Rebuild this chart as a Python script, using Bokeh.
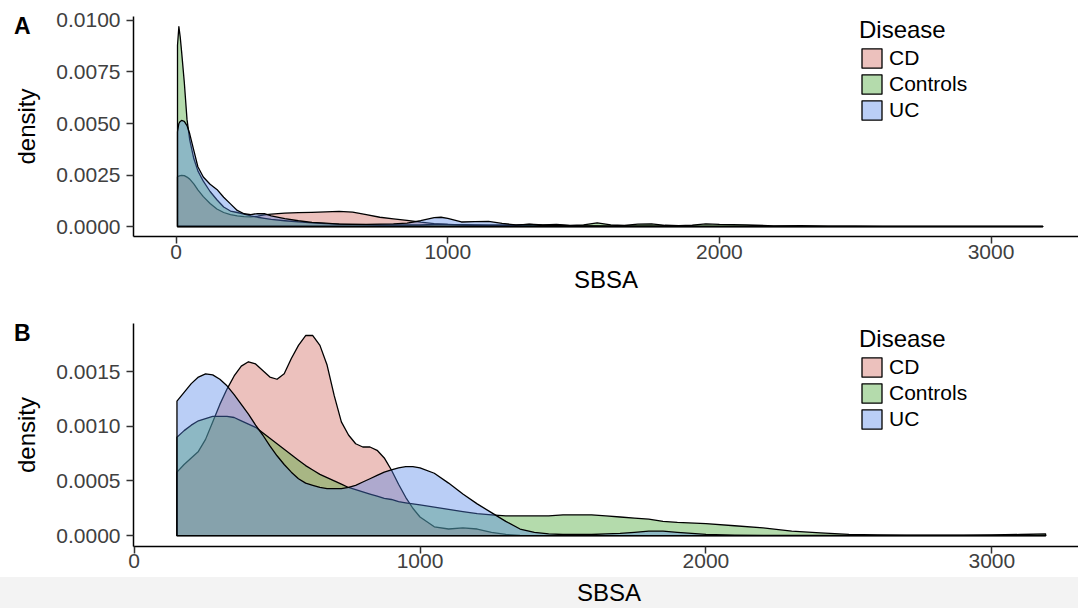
from bokeh.plotting import figure
from bokeh.models import (Range1d, FixedTicker, PrintfTickFormatter, Legend,
                          LegendItem, LinearAxis, Div)
from bokeh.layouts import column
from bokeh.embed import file_html
from bokeh.resources import INLINE

FONT = "Liberation Sans"
GROUPS = ["CD", "Controls", "UC"]
COLORS = ["#CF645A", "#44A530", "#5284E8"]
FILL_ALPHA = 0.4

# ---- Panel A: density of SBSA, all samples ----
a_sbsa = [5, 10, 15, 20, 30, 40, 50, 65, 80, 100, 125, 150, 175, 200, 225, 250,
          275, 300, 325, 350, 400, 450, 500, 550, 600, 650, 700, 750, 800, 850,
          900, 950, 975, 1000, 1050, 1100, 1150, 1200, 1250, 1300, 1350, 1400,
          1450, 1500, 1550, 1600, 1650, 1700, 1750, 1800, 1850, 1900, 1950, 2000,
          2100, 2200, 2300, 2400, 2500, 2600, 2800, 3000, 3190]
a_cd = [0.00240, 0.00245, 0.00247, 0.00248, 0.00247, 0.00240, 0.00230, 0.00207,
        0.00178, 0.00145, 0.00112, 0.00085, 0.00068, 0.00058, 0.00052, 0.00048,
        0.00047, 0.00050, 0.00056, 0.00060, 0.00065, 0.00067, 0.00069, 0.00071,
        0.00073, 0.00070, 0.00058, 0.00045, 0.00037, 0.00030, 0.00021, 0.00014,
        0.00012, 0.00010, 0.00009, 0.00008, 0.00007, 0.00006, 0.00005, 0.00004,
        0.00003, 0.00003, 0.00003, 0.00002, 0.00002, 0.00002, 0.00002, 0.00002,
        0.00002, 0.00001, 0.00001, 0.00001, 0.00001, 0.00001, 0.00001, 0.00001,
        0.00001, 0.00001, 0.00001, 0.00001, 0.00001, 0.00001, 0.00001]
a_controls = [0.00880, 0.00970, 0.00920, 0.00850, 0.00700, 0.00520, 0.00420,
              0.00330, 0.00270, 0.00220, 0.00170, 0.00130, 0.00095, 0.00075,
              0.00068, 0.00060, 0.00052, 0.00045, 0.00040, 0.00035, 0.00028,
              0.00022, 0.00018, 0.00014, 0.00012, 0.00010, 0.00009, 0.00008,
              0.00008, 0.00008, 0.00008, 0.00010, 0.00011, 0.00010, 0.00008,
              0.00007, 0.00006, 0.00006, 0.00006, 0.00012, 0.00008, 0.00010,
              0.00005, 0.00008, 0.00018, 0.00008, 0.00005, 0.00012, 0.00013,
              0.00006, 0.00004, 0.00007, 0.00013, 0.00010, 0.00008, 0.00003,
              0.00004, 0.00002, 0.00002, 0.00001, 0.00001, 0.00001, 0.00001]
a_uc = [0.00460, 0.00500, 0.00510, 0.00515, 0.00510, 0.00490, 0.00450, 0.00370,
        0.00290, 0.00240, 0.00205, 0.00180, 0.00142, 0.00110, 0.00078, 0.00062,
        0.00058, 0.00063, 0.00062, 0.00052, 0.00038, 0.00028, 0.00020, 0.00016,
        0.00012, 0.00010, 0.00010, 0.00012, 0.00013, 0.00016, 0.00028, 0.00043,
        0.00045, 0.00040, 0.00022, 0.00024, 0.00025, 0.00015, 0.00008, 0.00010,
        0.00006, 0.00007, 0.00004, 0.00003, 0.00003, 0.00002, 0.00002, 0.00002,
        0.00002, 0.00002, 0.00001, 0.00001, 0.00001, 0.00001, 0.00001, 0.00001,
        0.00001, 0.00001, 0.00001, 0.00001, 0.00001, 0.00001, 0.00001]

# ---- Panel B: density of SBSA, restricted samples ----
b_sbsa = [150, 175, 200, 225, 250, 275, 300, 325, 350, 375, 400, 425, 450, 475,
          500, 525, 550, 575, 600, 625, 650, 675, 700, 725, 750, 775, 800, 825,
          850, 875, 900, 925, 950, 975, 1000, 1050, 1100, 1150, 1200, 1250, 1300,
          1350, 1400, 1450, 1500, 1550, 1600, 1650, 1700, 1750, 1800, 1850, 1900,
          2000, 2100, 2200, 2300, 2400, 2500, 2600, 2700, 2800, 2900, 3000, 3100,
          3188]
b_cd = [0.00058, 0.00065, 0.00071, 0.00077, 0.00088, 0.00104, 0.00120, 0.00134,
        0.00146, 0.00155, 0.00159, 0.00157, 0.00151, 0.00145, 0.00143, 0.00148,
        0.00162, 0.00174, 0.00183, 0.00183, 0.00174, 0.00156, 0.00128, 0.00104,
        0.00092, 0.00084, 0.00081, 0.00081, 0.00078, 0.00071, 0.00060, 0.00047,
        0.00035, 0.00025, 0.00017, 0.00008, 0.00006, 0.00007, 0.00006, 0.00003,
        0.00001, 0.000002, 0.0, 0.0, 0.0, 0.0, 0.0, 0.0, 0.0, 0.0, 0.0, 0.0, 0.0,
        0.0, 0.0, 0.0, 0.0, 0.0, 0.0, 0.0, 0.0, 0.0, 0.0, 0.0, 0.0, 0.0]
b_controls = [0.00090, 0.00096, 0.00101, 0.00105, 0.00107, 0.00109, 0.00109,
              0.00109, 0.00108, 0.00105, 0.00102, 0.00099, 0.00094, 0.00089,
              0.00084, 0.00079, 0.00074, 0.00069, 0.00064, 0.00060, 0.00056,
              0.00053, 0.00050, 0.00047, 0.00044, 0.00042, 0.00040, 0.00038,
              0.00036, 0.00034, 0.00033, 0.00031, 0.00030, 0.00029, 0.00028,
              0.00026, 0.00024, 0.00022, 0.00020, 0.00019, 0.00018, 0.00018,
              0.00018, 0.00018, 0.00019, 0.00019, 0.00019, 0.00018, 0.00017,
              0.00016, 0.00015, 0.00013, 0.00012, 0.00011, 0.00009, 0.00007,
              0.00004, 0.000025, 0.00001, 0.000005, 0.000003, 0.000003,
              0.000004, 0.000006, 0.00001, 0.000015]
b_uc = [0.00123, 0.00131, 0.00139, 0.00145, 0.00148, 0.00147, 0.00143, 0.00137,
        0.00129, 0.00120, 0.00111, 0.00101, 0.00092, 0.00082, 0.00073, 0.00065,
        0.00058, 0.00052, 0.00048, 0.00046, 0.00044, 0.00043, 0.00043, 0.00043,
        0.00044, 0.00046, 0.00049, 0.00052, 0.00055, 0.00058, 0.00060, 0.00062,
        0.00063, 0.00063, 0.00062, 0.00057, 0.00048, 0.00038, 0.00029, 0.00021,
        0.00013, 0.00006, 0.00003, 0.000015, 0.00001, 0.00001, 0.00001,
        0.000015, 0.00002, 0.00003, 0.00004, 0.00004, 0.00003, 0.00001,
        0.000004, 0.000002, 0.000002, 0.000002, 0.000002, 0.000002, 0.000002,
        0.000002, 0.000002, 0.000002, 0.000002, 0.000002]

x_ticks = [0, 1000, 2000, 3000]
a_y_ticks = [0.0, 0.0025, 0.005, 0.0075, 0.01]
b_y_ticks = [0.0, 0.0005, 0.001, 0.0015]

a_x_limits = (-157, 3322)
a_y_limits = (-0.000485, 0.010194)
b_x_limits = (-2, 3303)
b_y_limits = (-0.0001, 0.00194)


def density_panel(sbsa, series, x_lim, y_lim, y_ticks, height, border_top,
                  border_bottom, tag, tag_y, x_title, legend_y):
    p = figure(width=1078, height=height, x_range=Range1d(*x_lim),
               y_range=Range1d(*y_lim), output_backend="svg", title=None,
               toolbar_location=None, min_border_left=133, min_border_right=0,
               min_border_top=border_top, min_border_bottom=border_bottom)
    p.grid.visible = False
    p.outline_line_color = None
    p.background_fill_color = "white"
    p.border_fill_color = "white"

    items = []
    for name, dens, col in zip(GROUPS, series, COLORS):
        # closed polygon: vertical edges at both ends plus the zero baseline
        xs = [sbsa[0]] + list(sbsa) + [sbsa[-1]]
        ys = [0.0] + list(dens) + [0.0]
        r = p.patch(xs, ys, fill_color=col, fill_alpha=FILL_ALPHA,
                    line_color="black", line_width=1.3, line_join="round")
        items.append(LegendItem(label=name, renderers=[r]))

    p.xaxis.ticker = FixedTicker(ticks=x_ticks)
    p.xaxis.formatter = PrintfTickFormatter(format="%d")
    p.yaxis.ticker = FixedTicker(ticks=y_ticks)
    p.yaxis.formatter = PrintfTickFormatter(format="%.4f")

    for ax in (p.xaxis[0], p.yaxis[0]):
        ax.axis_line_color = "black"
        ax.axis_line_width = 1.5
        ax.major_tick_line_color = "#333333"
        ax.major_tick_line_width = 1.5
        ax.major_tick_out = 7
        ax.major_tick_in = 0
        ax.minor_tick_line_color = None
        ax.major_label_text_font = FONT
        ax.major_label_text_font_size = "21px"
        ax.major_label_text_color = "#404040"
        ax.axis_label_text_font = FONT
        ax.axis_label_text_font_size = "24px"
        ax.axis_label_text_font_style = "normal"
        ax.axis_label_text_color = "black"

    p.yaxis.axis_label = "density"
    p.yaxis.major_label_standoff = 6
    p.yaxis.axis_label_standoff = 13
    if x_title:
        p.xaxis.axis_label = x_title
        p.xaxis.major_label_standoff = 1
        p.xaxis.axis_label_standoff = 4
    else:
        p.xaxis.major_label_standoff = 0

    # panel tag drawn as a bare outer axis in the left margin, level with the
    # top of the y axis
    tag_axis = LinearAxis(ticker=FixedTicker(ticks=[tag_y]),
                          formatter=PrintfTickFormatter(format=tag),
                          axis_line_color=None, major_tick_line_color=None,
                          minor_tick_line_color=None, major_tick_out=0,
                          major_tick_in=0, major_label_standoff=-20,
                          major_label_text_font=FONT,
                          major_label_text_font_size="23px",
                          major_label_text_font_style="bold",
                          major_label_text_color="black")
    p.add_layout(tag_axis, "left")

    legend = Legend(items=items, location=(726, legend_y), title="Disease",
                    title_text_font=FONT, title_text_font_size="24px",
                    title_text_font_style="normal", title_text_color="black",
                    title_standoff=2,
                    label_text_font=FONT, label_text_font_size="21px",
                    label_text_color="black", label_standoff=5,
                    glyph_width=25, glyph_height=24, label_height=24,
                    spacing=2, padding=0, margin=0,
                    border_line_color=None, background_fill_alpha=0)
    p.add_layout(legend)
    return p


pA = density_panel(a_sbsa, [a_cd, a_controls, a_uc], a_x_limits, a_y_limits,
                   a_y_ticks, 300, 16, 64, "A", 0.009757, "SBSA", 114)
pB = density_panel(b_sbsa, [b_cd, b_controls, b_uc], b_x_limits, b_y_limits,
                   b_y_ticks, 277, 23, 31, "B", 0.001853, None, 115)

# light grey footer band carrying the lower x-axis title
footer = Div(
    text=('<span style="position:absolute; left:609px; top:0px; '
          'transform:translateX(-50%); font-family:\'Liberation Sans\'; '
          'font-size:24px; line-height:31px; color:#000000;">SBSA</span>'),
    width=1078, height=31, margin=0,
    styles={"background-color": "#f3f3f3", "position": "relative",
            "overflow": "hidden"})

layout = column(pA, pB, footer, spacing=0)
open("out.html", "w").write(file_html(layout, INLINE))
